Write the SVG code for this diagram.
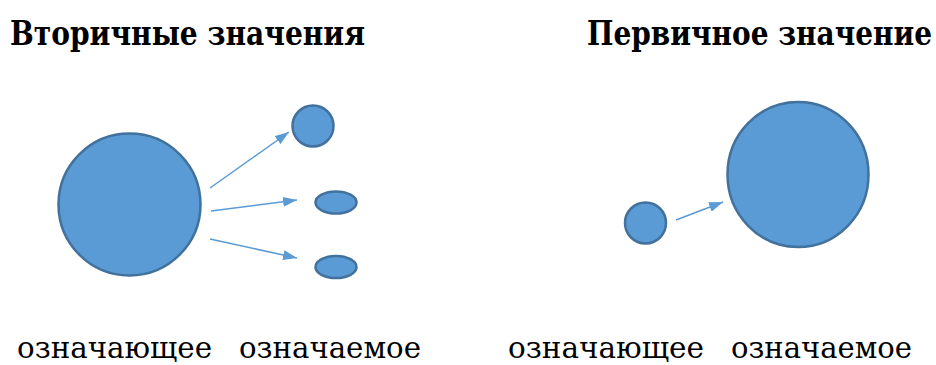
<svg xmlns="http://www.w3.org/2000/svg" width="936" height="365" viewBox="0 0 936 365">
<style>
.title{font-family:'DejaVu Serif','Liberation Serif',serif;font-weight:bold;font-size:34px;fill:#000}
.lbl{font-family:'DejaVu Serif','Liberation Serif',serif;font-size:30px;fill:#000}
.node{fill:#5B9BD5;stroke:#41719C;stroke-width:2.5}
.conn{stroke:#5B9BD5;stroke-width:1.5;fill:none}
</style>
<defs>
<marker id="ah" viewBox="0 0 14 10" refX="14" refY="5" markerWidth="14" markerHeight="10" markerUnits="userSpaceOnUse" orient="auto">
<path d="M0,0 L14,5 L0,10 Z" fill="#5B9BD5"/>
</marker>
</defs>
<g id="texts">
<text class="title" x="10" y="45" textLength="355" lengthAdjust="spacingAndGlyphs">Вторичные значения</text>
<text class="title" x="587" y="45" textLength="345" lengthAdjust="spacingAndGlyphs">Первичное значение</text>
<text class="lbl" x="17" y="358" textLength="195" lengthAdjust="spacingAndGlyphs">означающее</text>
<text class="lbl" x="239" y="358" textLength="182" lengthAdjust="spacingAndGlyphs">означаемое</text>
<text class="lbl" x="508" y="358" textLength="196" lengthAdjust="spacingAndGlyphs">означающее</text>
<text class="lbl" x="731" y="358" textLength="181" lengthAdjust="spacingAndGlyphs">означаемое</text>
</g>
<g id="n-left-big"><circle class="node" cx="129.5" cy="204.5" r="71"/></g>
<g id="n-left-small1"><circle class="node" cx="313" cy="126" r="20.5"/></g>
<g id="n-left-ell1"><ellipse class="node" cx="336" cy="202.5" rx="20.5" ry="11"/></g>
<g id="n-left-ell2"><ellipse class="node" cx="336" cy="267" rx="20.5" ry="11"/></g>
<g id="n-right-small"><circle class="node" cx="645.5" cy="223" r="20.5"/></g>
<g id="n-right-big"><ellipse class="node" cx="798" cy="174.5" rx="70.5" ry="72.5"/></g>
<g id="connectors">
<line class="conn" x1="210" y1="188" x2="289" y2="132" marker-end="url(#ah)"/>
<line class="conn" x1="211" y1="211" x2="297" y2="200" marker-end="url(#ah)"/>
<line class="conn" x1="210" y1="239" x2="297" y2="258" marker-end="url(#ah)"/>
<line class="conn" x1="676" y1="220" x2="723" y2="202" marker-end="url(#ah)"/>
</g>
</svg>
